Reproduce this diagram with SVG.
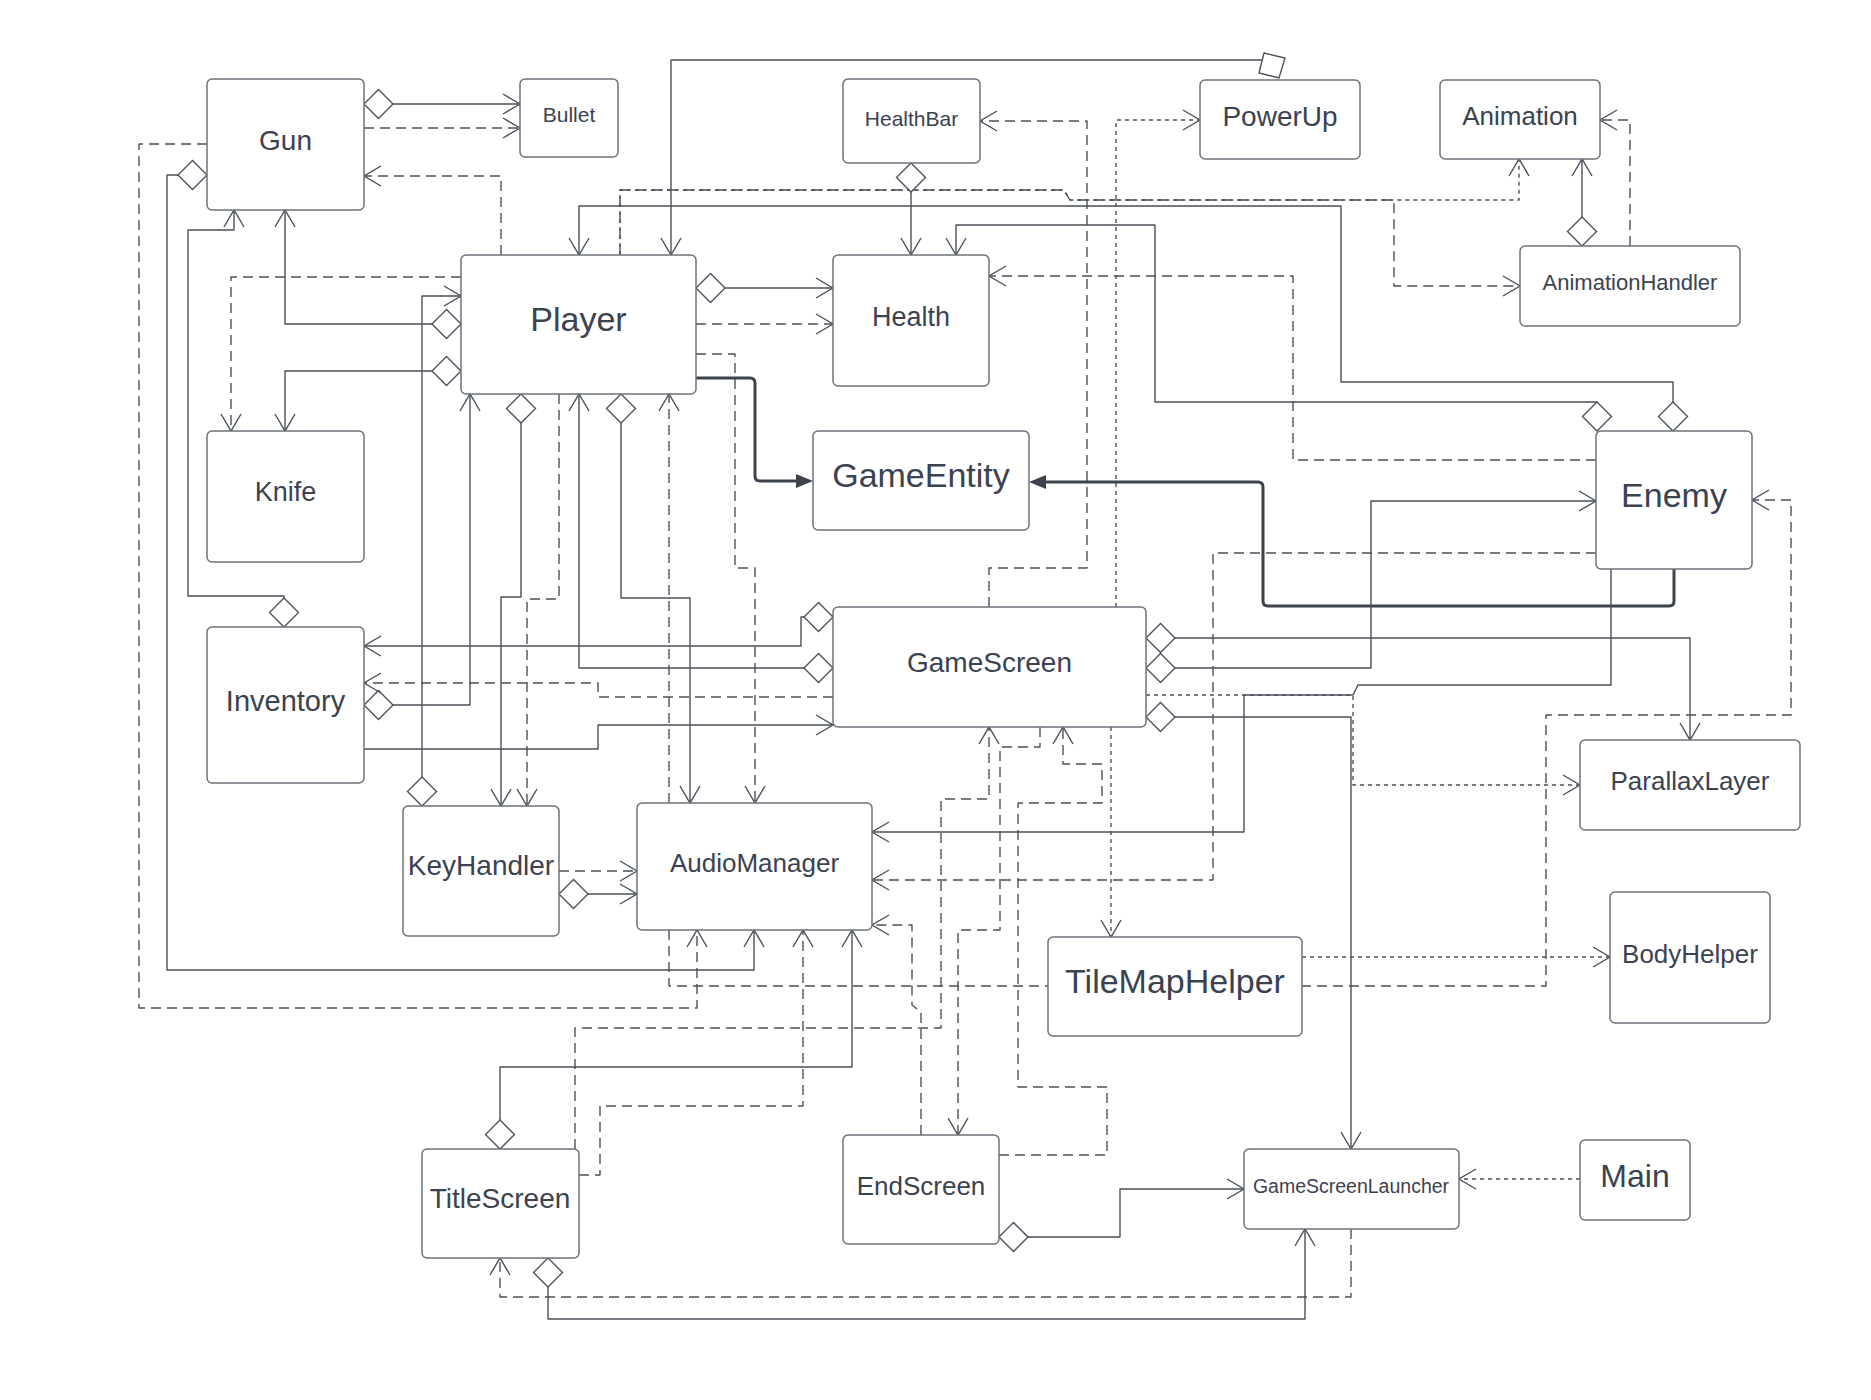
<svg xmlns="http://www.w3.org/2000/svg" width="1871" height="1400" viewBox="0 0 1871 1400">
<style>
  .box{fill:#ffffff;stroke:#6e737b;stroke-width:1.5}
  .lbl{font-family:"Liberation Sans",Arial,sans-serif;fill:#3b4250;text-anchor:middle}
  .c{fill:none;stroke:#4a505a;stroke-width:1.4;stroke-linejoin:round}
  .d{stroke-dasharray:10 6}
  .o{stroke-dasharray:4 4}
  .t{stroke:#3d434c;stroke-width:3}
  .a{marker-end:url(#arr)}
  .g{marker-start:url(#dia);marker-end:url(#arr)}
  .f{marker-end:url(#tri)}
</style>
<defs>
  <marker id="arr" viewBox="-19 -12 21 24" refX="0" refY="0" markerWidth="21" markerHeight="24" markerUnits="userSpaceOnUse" orient="auto">
    <path d="M-17,-10 L0,0 L-17,10" fill="none" stroke="#4a505a" stroke-width="1.4"/>
  </marker>
  <marker id="dia" viewBox="-2 -16 33 32" refX="0" refY="0" markerWidth="33" markerHeight="32" markerUnits="userSpaceOnUse" orient="auto">
    <path d="M0,0 L14.5,-14.5 L29,0 L14.5,14.5 Z" fill="#ffffff" stroke="#4a505a" stroke-width="1.4"/>
  </marker>
  <marker id="tri" viewBox="-12 -8 20 16" refX="0" refY="0" markerWidth="20" markerHeight="16" markerUnits="userSpaceOnUse" orient="auto">
    <path d="M-11,-7 L6,0 L-11,7 Z" fill="#3d434c"/>
  </marker>
</defs>

<g id="connectors">
  <!-- Gun -->
  <path class="c g" d="M364,104 H520"/>
  <path class="c d a" d="M364,128 H520"/>
  <path class="c d a" d="M501,255 V176 H364"/>
  <path class="c d a" d="M207,144 H139 V1008 H697 V930"/>
  <path class="c g" d="M207,175 H167 V970 H754 V930"/>
  <path class="c g" d="M284,627 V596 H188 V230 H234 V210"/>
  <path class="c g" d="M461,324 H285 V210"/>
  <!-- Knife -->
  <path class="c g" d="M461,371 H285 V431"/>
  <path class="c d a" d="M461,277 H231 V431"/>
  <!-- Player -->
  <path class="c g" d="M422,806 V296 H461"/>
  <path class="c g" d="M364,705 H470 V394"/>
  <path class="c g" d="M521,394 V597 H501 V806"/>
  <path class="c d a" d="M559,394 V599 H527 V806"/>
  <path class="c g" d="M833,668 H579 V394"/>
  <path class="c g" d="M621,394 V598 H690 V803"/>
  <path class="c d a" d="M669,803 V394"/>
  <path class="c d a" d="M696,354 H735 V568 H755 V803"/>
  <path class="c g" d="M696,288 H833"/>
  <path class="c d a" d="M696,324 H833"/>
  <path class="c t f" d="M696,378 H750 Q755,378 755,383 V476 Q755,481 760,481 H807"/>
  <path class="c g" d="M1673,431 V382 H1341 V206 H579 V255"/>
  <path class="c a" d="M1262,60 H671 V255"/>
  <polygon points="1264,53 1285,58 1279,78 1259,73" fill="#ffffff" stroke="#4a505a" stroke-width="1.4"/>
  <path class="c o a" d="M620,255 V190 H1064 L1070,200 H1519 V159"/>
  <path class="c d a" d="M620,255 V190 H1064 L1070,200 H1394 V286 H1520"/>
  <!-- PowerUp / HealthBar / Health -->
  <path class="c o a" d="M1116,607 V120 H1200"/>
  <path class="c d a" d="M989,607 V568 H1087 V121 H980"/>
  <path class="c g" d="M911,163 V255"/>
  <path class="c g" d="M1597,431 V402 H1155 V225 H956 V255"/>
  <path class="c d a" d="M1596,460 H1293 V276 H989"/>
  <!-- Animation -->
  <path class="c g" d="M1582,246 V159"/>
  <path class="c d a" d="M1630,246 V120 H1600"/>
  <!-- Enemy -->
  <path class="c t f" d="M1674,569 V601 Q1674,606 1669,606 H1268 Q1263,606 1263,601 V487 Q1263,482 1258,482 H1035"/>
  <path class="c g" d="M1146,668 H1371 V501 H1596"/>
  <path class="c g" d="M1146,638 H1690 V740"/>
  <path class="c g" d="M1146,717 H1351 V1149"/>
  <path class="c a" d="M1611,569 V685 H1358 L1353,695 H1244 V832 H872"/>
  <path class="c o a" d="M1146,695 H1353 V785 H1580"/>
  <path class="c d a" d="M1596,553 H1213 V880 H872"/>
  <path class="c d a" d="M669,930 V986 H1546 V715 H1791 V500 H1752"/>
  <!-- GameScreen bottom -->
  <path class="c d a" d="M921,1135 V1012 L912,1005 V925 H872"/>
  <path class="c d a" d="M575,1149 V1028 H941 V799 H989 V727"/>
  <path class="c d a" d="M1040,727 V747 H1000 V930 H958 V1135"/>
  <path class="c d a" d="M999,1155 H1107 V1087 H1018 V803 H1102 V764 H1063 V727"/>
  <path class="c o a" d="M1111,727 V937"/>
  <path class="c o a" d="M1302,957 H1610"/>
  <!-- KeyHandler / TitleScreen / EndScreen / Launcher -->
  <path class="c d a" d="M559,871 H637"/>
  <path class="c g" d="M559,894 H637"/>
  <path class="c d a" d="M579,1175 H600 V1106 H803 V930"/>
  <path class="c g" d="M500,1149 V1067 H852 V930"/>
  <path class="c g" d="M999,1237 H1120 V1189 H1244"/>
  <path class="c o a" d="M1580,1179 H1459"/>
  <path class="c d a" d="M1351,1229 V1297 H500 V1258"/>
  <path class="c g" d="M548,1258 V1319 H1305 V1229"/>
  <!-- Inventory -->
  <path class="c g" d="M833,617 H801 V646 H364"/>
  <path class="c d a" d="M833,697 H598 V683 H364"/>
  <path class="c a" d="M364,749 H598 V725 H833"/>
</g>

<g id="node-gun"><rect class="box" x="207" y="79" width="157" height="131" rx="5"/><text class="lbl" x="285.5" y="150" font-size="28">Gun</text></g>
<g id="node-bullet"><rect class="box" x="520" y="79" width="98" height="78" rx="5"/><text class="lbl" x="569" y="122" font-size="21">Bullet</text></g>
<g id="node-healthbar"><rect class="box" x="843" y="79" width="137" height="84" rx="5"/><text class="lbl" x="911.5" y="126" font-size="21">HealthBar</text></g>
<g id="node-powerup"><rect class="box" x="1200" y="80" width="160" height="79" rx="5"/><text class="lbl" x="1280" y="126" font-size="28">PowerUp</text></g>
<g id="node-animation"><rect class="box" x="1440" y="80" width="160" height="79" rx="5"/><text class="lbl" x="1520" y="125" font-size="26">Animation</text></g>
<g id="node-player"><rect class="box" x="461" y="255" width="235" height="139" rx="5"/><text class="lbl" x="578.5" y="331" font-size="34">Player</text></g>
<g id="node-health"><rect class="box" x="833" y="255" width="156" height="131" rx="5"/><text class="lbl" x="911" y="326" font-size="27">Health</text></g>
<g id="node-animationhandler"><rect class="box" x="1520" y="246" width="220" height="80" rx="5"/><text class="lbl" x="1630" y="290" font-size="22">AnimationHandler</text></g>
<g id="node-knife"><rect class="box" x="207" y="431" width="157" height="131" rx="5"/><text class="lbl" x="285.5" y="501" font-size="27">Knife</text></g>
<g id="node-gameentity"><rect class="box" x="813" y="431" width="216" height="99" rx="5"/><text class="lbl" x="921" y="487" font-size="34">GameEntity</text></g>
<g id="node-enemy"><rect class="box" x="1596" y="431" width="156" height="138" rx="5"/><text class="lbl" x="1674" y="507" font-size="34">Enemy</text></g>
<g id="node-gamescreen"><rect class="box" x="833" y="607" width="313" height="120" rx="5"/><text class="lbl" x="989.5" y="672" font-size="28">GameScreen</text></g>
<g id="node-inventory"><rect class="box" x="207" y="627" width="157" height="156" rx="5"/><text class="lbl" x="285.5" y="711" font-size="29">Inventory</text></g>
<g id="node-parallaxlayer"><rect class="box" x="1580" y="740" width="220" height="90" rx="5"/><text class="lbl" x="1690" y="790" font-size="26">ParallaxLayer</text></g>
<g id="node-keyhandler"><rect class="box" x="403" y="806" width="156" height="130" rx="5"/><text class="lbl" x="481" y="875" font-size="28">KeyHandler</text></g>
<g id="node-audiomanager"><rect class="box" x="637" y="803" width="235" height="127" rx="5"/><text class="lbl" x="754.5" y="872" font-size="26">AudioManager</text></g>
<g id="node-tilemaphelper"><rect class="box" x="1048" y="937" width="254" height="99" rx="5"/><text class="lbl" x="1175" y="993" font-size="34">TileMapHelper</text></g>
<g id="node-bodyhelper"><rect class="box" x="1610" y="892" width="160" height="131" rx="5"/><text class="lbl" x="1690" y="963" font-size="26">BodyHelper</text></g>
<g id="node-titlescreen"><rect class="box" x="422" y="1149" width="157" height="109" rx="5"/><text class="lbl" x="500" y="1208" font-size="28">TitleScreen</text></g>
<g id="node-endscreen"><rect class="box" x="843" y="1135" width="156" height="109" rx="5"/><text class="lbl" x="921" y="1195" font-size="26">EndScreen</text></g>
<g id="node-gamescreenlauncher"><rect class="box" x="1244" y="1149" width="215" height="80" rx="5"/><text class="lbl" x="1351" y="1193" font-size="19.5">GameScreenLauncher</text></g>
<g id="node-main"><rect class="box" x="1580" y="1140" width="110" height="80" rx="5"/><text class="lbl" x="1635" y="1187" font-size="32">Main</text></g>
</svg>
